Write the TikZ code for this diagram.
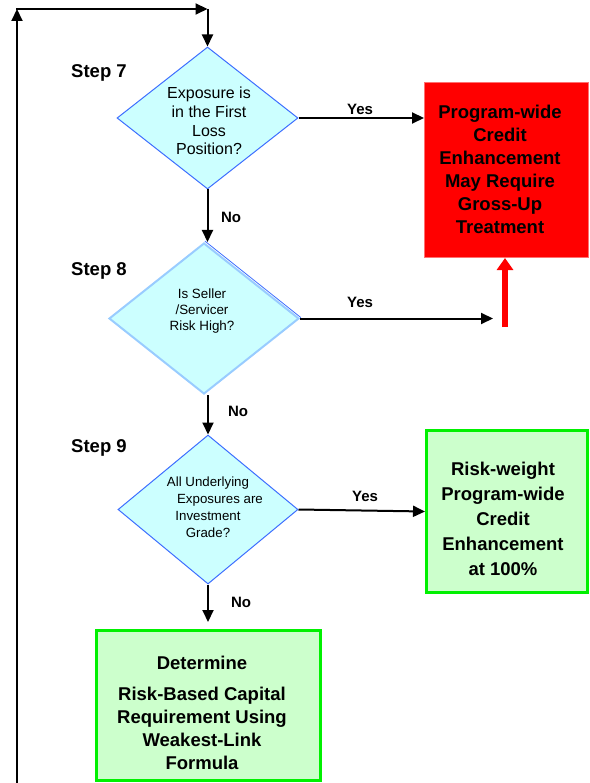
\documentclass[tikz,border=0pt]{standalone}
\usepackage{fontspec}
\setmainfont{Liberation Sans}
\usetikzlibrary{shapes.geometric,arrows.meta}
\definecolor{cyanfill}{HTML}{CCFFFF}
\definecolor{diaborder}{HTML}{3D6EFF}
\definecolor{diaborderlt}{HTML}{99CCFF}
\definecolor{greenfill}{HTML}{CCFFCC}
\definecolor{greenborder}{HTML}{00F000}
\definecolor{redfill}{HTML}{FF0000}
\definecolor{redborder}{HTML}{FF7070}
\tikzset{
  dia/.style={diamond, fill=cyanfill, draw=diaborder, line width=1pt, inner sep=0pt, aspect=1},
  greenbox/.style={rectangle, fill=greenfill, draw=greenborder, line width=3pt, inner sep=0pt},
  redbox/.style={rectangle, fill=redfill, draw=redborder, line width=1pt, inner sep=0pt},
  boxtext/.style={align=center, font=\fontsize{18.5}{23}\selectfont\bfseries, inner sep=0pt},
  steplabel/.style={font=\fontsize{18.5}{22}\selectfont\bfseries, inner sep=0pt},
  lbl/.style={font=\fontsize{15}{18}\selectfont\bfseries, inner sep=0pt},
  arr/.style={line width=2pt, -{Triangle[length=12pt,width=11pt]}},
  redarr/.style={line width=5.5pt, draw=redfill, -{Triangle[length=12pt,width=16pt]}}
}
\begin{document}
\begin{tikzpicture}[x=1pt,y=-1pt]
\useasboundingbox (0,0) rectangle (589,783);

% decision diamonds
\node[dia, minimum width=181pt, minimum height=142pt] (d1) at (207.5,118) {};
\node[dia, draw=diaborderlt, line width=2pt, minimum width=190pt, minimum height=151pt] (d2) at (204,318.5) {};
\draw[diaborder, line width=0.8pt] ([shift={(0.9,-0.9)}]d2.north) -- ([shift={(0.9,-0.9)}]d2.east);
\node[dia, minimum width=180pt, minimum height=149pt] (d3) at (208,509.5) {};

\node[align=center, font=\fontsize{16}{18.7}\selectfont, inner sep=0pt] (d1t) at (209,121)
  {Exposure is\\in the First\\Loss\\Position?};
\node[align=center, font=\fontsize{13.4}{16}\selectfont, inner sep=0pt] (d2t) at (202,311)
  {Is Seller\\/Servicer\\Risk High?};
\node[align=center, font=\fontsize{13.3}{17}\selectfont, inner sep=0pt] (d3t) at (208,507)
  {All Underlying\\\hspace*{24pt}Exposures are\\Investment\\Grade?};

% result boxes
\node[redbox, minimum width=164pt, minimum height=175pt] (red) at (506.5,170) {};
\node[boxtext] (redt) at (500,169)
  {Program-wide\\Credit\\Enhancement\\May Require\\Gross-Up\\Treatment};
\node[greenbox, minimum width=161pt, minimum height=162pt] (g1) at (507,511.5) {};
\node[boxtext, font=\fontsize{18.5}{25}\selectfont\bfseries] (g1t) at (503,519)
  {Risk-weight\\Program-wide\\Credit\\Enhancement\\at 100\%};
\node[greenbox, minimum width=224pt, minimum height=150pt] (g2) at (208.5,705.5) {};
\node[boxtext] (g2t) at (202,713)
  {Determine\\[8pt]Risk-Based Capital\\Requirement Using\\Weakest-Link\\Formula};

% step labels
\node[steplabel] (s7) at (99,73) {Step 7};
\node[steplabel] (s8) at (99,271) {Step 8};
\node[steplabel] (s9) at (99,448) {Step 9};

% loop back connector
\coordinate (bl) at (17,783);
\coordinate (tl) at (17,9);
\coordinate (tls) at (16,9);
\coordinate (tr) at (207.5,9);
\draw[arr] (bl) -- (tl);
\draw[arr] (tls) -- (tr);
\draw[arr] (tr) -- (d1.north);

% flow connectors
\draw[arr] (d1.east) -- (d1.east -| red.west);
\node[lbl] (y1) at (360,109) {Yes};
\draw[arr] (d1.south) -- (d1.south |- d2.north);
\node[lbl] (n1) at (231,217) {No};

\coordinate (y2end) at (493,318.5);
\draw[arr] (d2.east) -- (y2end);
\node[lbl] (y2) at (360,302) {Yes};
\draw[arr] (d3.north |- d2.south) -- (d3.north);
\node[lbl] (n2) at (238,411) {No};

\coordinate (rstart) at (505,327);
\draw[redarr] (rstart) -- (rstart |- red.south);

\draw[arr] (d3.east) -- (g1.west);
\node[lbl] (y3) at (365,496) {Yes};
\draw[arr, shorten >=7pt] (d3.south) -- (d3.south |- g2.north);
\node[lbl] (n3) at (241,602) {No};
\end{tikzpicture}
\end{document}
